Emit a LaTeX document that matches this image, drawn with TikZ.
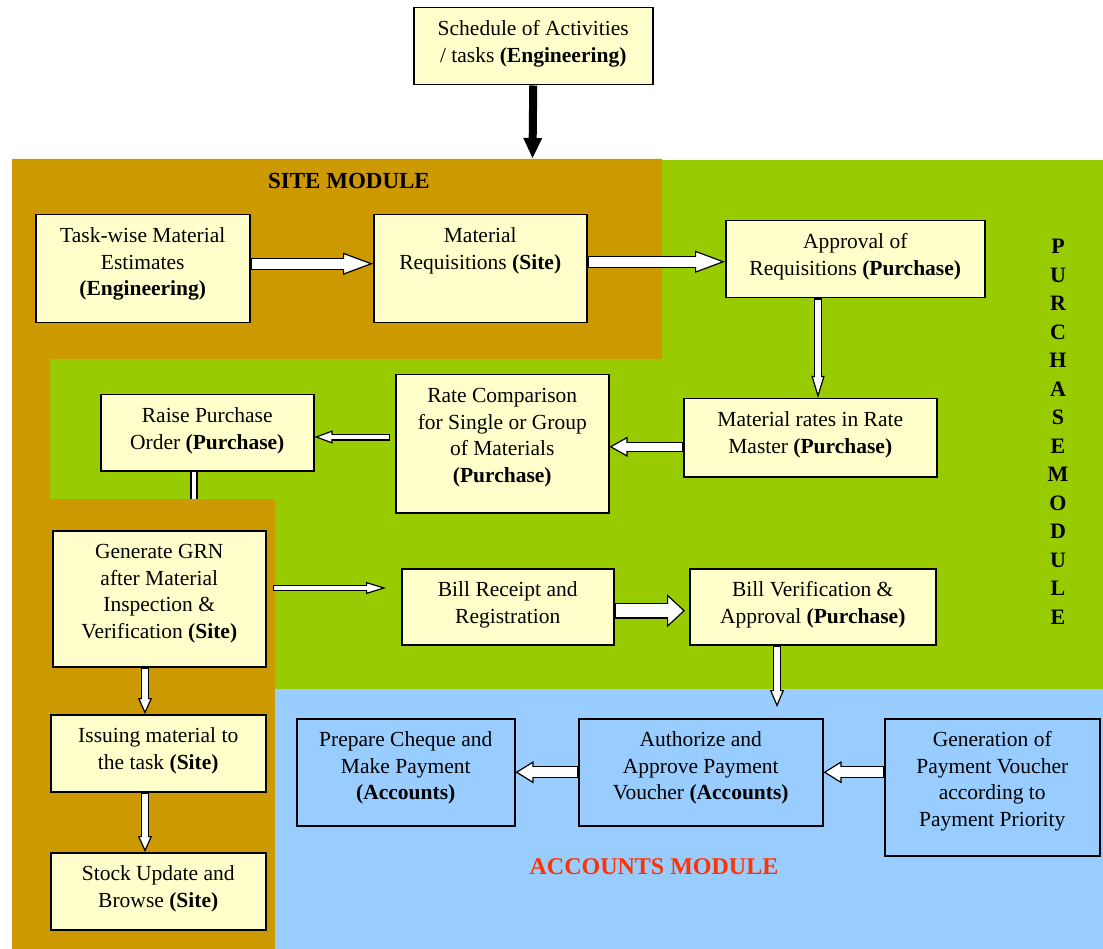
\documentclass[tikz,border=0pt]{standalone}
\usepackage{fontspec}
\setmainfont{Liberation Serif}
\usetikzlibrary{arrows.meta}
\definecolor{sitebrown}{HTML}{CC9900}
\definecolor{purgreen}{HTML}{99CC00}
\definecolor{accblue}{HTML}{99CCFF}
\definecolor{boxyellow}{HTML}{FFFFCC}
\definecolor{accred}{HTML}{FF3300}
\newcommand{\bxt}[3]{\parbox[c][#2][t]{#1}{\centering\rule{0pt}{28pt}#3}}
\begin{document}
\begin{tikzpicture}[x=1pt,y=-1pt,
  bx/.style={draw=black, line width=1.5pt, fill=boxyellow, inner sep=0pt, anchor=north west,
    font=\fontsize{21.5}{26.5}\selectfont},
  bbx/.style={bx, fill=accblue},
  warrow/.style n args={5}{draw=white, line width=#2, shorten <=1.2pt, shorten >=#5,
    preaction={draw=black, line width=#1, shorten <=0pt, shorten >=0pt,
      -{Triangle[length=#3,width=#4,fill=white,line width=1.2pt]}}},
  dline/.style 2 args={draw=white, line width=#2, shorten <=0pt,
    preaction={draw=black, line width=#1}},
]
\useasboundingbox (0,0) rectangle (1103,949);
% module backgrounds
\fill[purgreen] (50,160) rectangle (1103,689);
\fill[sitebrown] (12,159) -- (662,159) -- (662,359) -- (50,359) -- (50,499) -- (275,499) -- (275,949) -- (12,949) -- cycle;
\fill[accblue] (275,689) rectangle (1103,949);

% module labels
\node[font=\fontsize{23}{27}\selectfont\bfseries] (sitelbl) at (349,181) {SITE MODULE};
\node[font=\fontsize{22}{28.5}\selectfont\bfseries, align=center, inner sep=0pt] (purlbl) at (1058,432)
  {P\\U\\R\\C\\H\\A\\S\\E\\M\\O\\D\\U\\L\\E};
\node[font=\fontsize{24}{28}\selectfont\bfseries, text=accred] (acclbl) at (654,867) {ACCOUNTS MODULE};

% boxes
\node[bx] (sched) at (413,7) {\bxt{239pt}{77pt}{Schedule of Activities\\/ tasks \textbf{(Engineering)}}};
\node[bx] (task) at (35,214) {\bxt{214pt}{108pt}{Task-wise Material\\Estimates\\\textbf{(Engineering)}}};
\node[bx] (req) at (373,214) {\bxt{213pt}{108pt}{Material\\Requisitions \textbf{(Site)}}};
\node[bx] (appr) at (725,220) {\bxt{259pt}{77pt}{Approval of\\Requisitions \textbf{(Purchase)}}};
\node[bx] (rates) at (683,398) {\bxt{253pt}{78pt}{Material rates in Rate\\Master \textbf{(Purchase)}}};
\node[bx] (cmp) at (395,374) {\bxt{213pt}{138pt}{Rate Comparison\\for Single or Group\\of Materials\\\textbf{(Purchase)}}};
\node[bx] (po) at (100,394) {\bxt{213pt}{76pt}{Raise Purchase\\Order \textbf{(Purchase)}}};
\node[bx] (grn) at (52,530) {\bxt{213pt}{136pt}{Generate GRN\\after Material\\Inspection \&\\Verification \textbf{(Site)}}};
\node[bx] (issue) at (50,714) {\bxt{215pt}{77pt}{Issuing material to\\the task \textbf{(Site)}}};
\node[bx] (stock) at (50,852) {\bxt{215pt}{77pt}{Stock Update and\\Browse \textbf{(Site)}}};
\node[bx] (brc) at (401,568) {\bxt{212pt}{76pt}{Bill Receipt and\\Registration}};
\node[bx] (bvf) at (689,568) {\bxt{246pt}{76pt}{Bill Verification \&\\Approval \textbf{(Purchase)}}};
\node[bbx] (pay) at (296,718) {\bxt{218pt}{107pt}{Prepare Cheque and\\Make Payment\\\textbf{(Accounts)}}};
\node[bbx] (auth) at (578,718) {\bxt{244pt}{107pt}{Authorize and\\Approve Payment\\Voucher \textbf{(Accounts)}}};
\node[bbx] (gen) at (884,718) {\bxt{215pt}{137pt}{Generation of\\Payment Voucher\\according to\\Payment Priority}};

% helper coordinates
\coordinate (c0) at (532.5,158);
\coordinate (c3) at (818,0);
\coordinate (c5) at (390,437);
\coordinate (c6) at (194,499);
\coordinate (c7a) at (273,588);
\coordinate (c7b) at (386,588);
\coordinate (c9) at (145,0);
\coordinate (c11) at (777,707);

% connectors
\draw[line width=8pt, -{Triangle[length=20pt,width=19pt,line width=0pt]}] (sched.south) -- (c0);
\draw[warrow={12pt}{9.6pt}{30pt}{22pt}{26pt}] ([yshift=5pt]task.east) -- ([yshift=5pt]req.west);
\draw[warrow={12pt}{9.6pt}{30pt}{22pt}{26pt}] ([yshift=7pt]req.east) -- ([yshift=7pt]req.east -| appr.west);
\draw[warrow={8pt}{5.6pt}{22pt}{13pt}{18pt}] (c3 |- appr.south) -- (c3 |- rates.north);
\draw[warrow={10pt}{7.6pt}{18pt}{20pt}{14pt}] ([yshift=-9pt]rates.west) -- ([yshift=-9pt]rates.west -| cmp.east);
\draw[warrow={7pt}{4.6pt}{18pt}{13pt}{14pt}] (c5) -- (c5 -| po.east);
\draw[dline={8pt}{4.6pt}] (c6 |- po.south) -- (c6);
\draw[warrow={6pt}{3.6pt}{20pt}{12pt}{16pt}] (c7a) -- (c7b);
\draw[warrow={16pt}{13.2pt}{18pt}{33pt}{14pt}] ([yshift=-4pt]brc.east) -- ([shift={(-4pt,-4pt)}]bvf.west);
\draw[warrow={8pt}{5.6pt}{16pt}{14pt}{12pt}] (c9 |- grn.south) -- (c9 |- issue.north);
\draw[warrow={8pt}{5.6pt}{16pt}{14pt}{12pt}] (c9 |- issue.south) -- (c9 |- stock.north);
\draw[warrow={8pt}{5.6pt}{17pt}{14pt}{13pt}] (c11 |- bvf.south) -- (c11);
\draw[warrow={12pt}{9.6pt}{18pt}{22pt}{14pt}] (gen.west |- auth.east) -- (auth.east);
\draw[warrow={12pt}{9.6pt}{18pt}{22pt}{14pt}] (auth.west) -- (pay.east);
\end{tikzpicture}
\end{document}
